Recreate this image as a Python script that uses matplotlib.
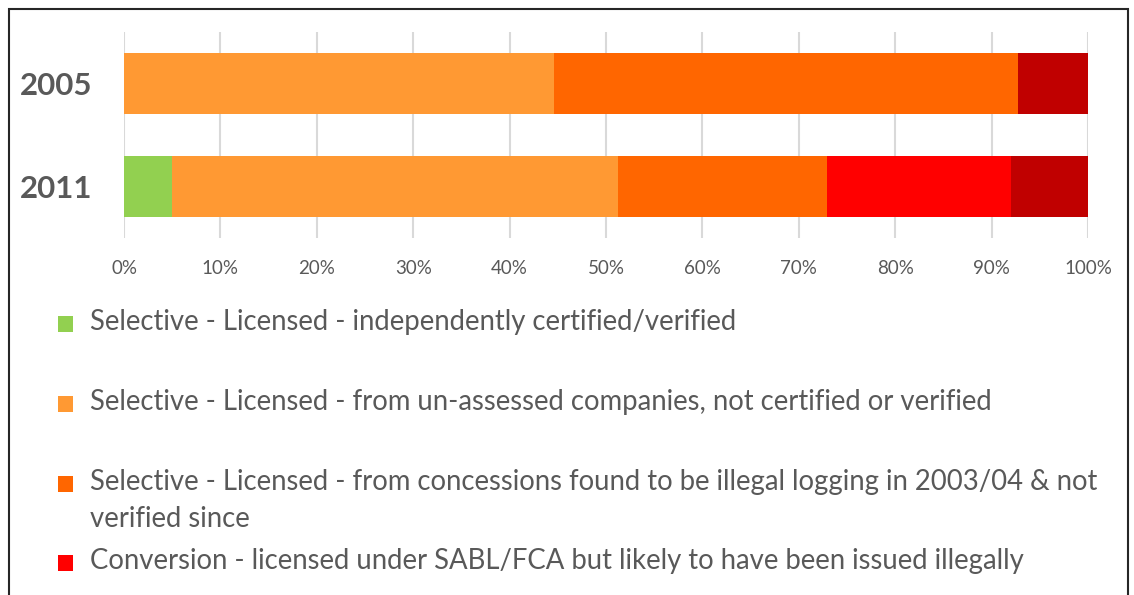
import matplotlib
matplotlib.use("Agg")
import matplotlib.pyplot as plt
from matplotlib.patches import Rectangle

years = ["2011", "2005"]
categories = [
    "Selective - Licensed - independently certified/verified",
    "Selective - Licensed - from un-assessed companies, not certified or verified",
    "Selective - Licensed - from concessions found to be illegal logging in 2003/04 & not\nverified since",
    "Conversion - licensed under SABL/FCA but likely to have been issued illegally",
    "Other - likely illegal",
]
colors = ["#92D050", "#FF9933", "#FF6600", "#FF0000", "#C00000"]
# values per category, ordered as years (2011, 2005)
values = [
    [5.0, 0.0],
    [46.2, 44.6],
    [21.7, 48.1],
    [19.1, 0.0],
    [8.0, 7.3],
]
xticks = [0, 10, 20, 30, 40, 50, 60, 70, 80, 90, 100]

FONT = "Lato"
TXT = "#595959"

fig = plt.figure(figsize=(11.34, 5.95), dpi=100)
ax = fig.add_axes([124/1134, 1-238/595, 964/1134, 206/595])

ypos = list(range(len(years)))
left = [0.0] * len(years)
for cat, col, vals in zip(categories, colors, values):
    ax.barh(ypos, vals, left=left, height=0.6, color=col, linewidth=0, zorder=3)
    left = [l + v for l, v in zip(left, vals)]

ax.set_xlim(0, 100)
ax.set_ylim(-0.5, 1.5)
ax.set_xticks(xticks)
ax.set_xticklabels([f"{t}%" for t in xticks], fontsize=13.5, color=TXT, family=FONT)
ax.set_yticks(ypos)
ax.set_yticklabels(years, fontsize=22.5, fontweight="bold", color=TXT, family=FONT)
ax.tick_params(axis="x", length=0, pad=16)
ax.tick_params(axis="y", length=0, pad=23)
ax.grid(axis="x", color="#D9D9D9", linewidth=1.5, zorder=0)
for s in ax.spines.values():
    s.set_visible(False)

# legend (first four entries visible; the rest is cut off in the original)
leg_y = [323, 403, 483, 562]
line_h = 37
for cat, col, y in zip(categories[:4], colors[:4], leg_y):
    fig.patches.append(Rectangle((58/1134, 1-(y+9)/595), 15/1134, 16/595,
                                 transform=fig.transFigure, facecolor=col,
                                 edgecolor="none"))
    for i, line in enumerate(cat.split("\n")):
        fig.text(90/1134, 1-(y - 1 + i*line_h)/595, line, fontsize=19.8,
                 color=TXT, family=FONT, va="center")

fig.patches.append(Rectangle((9/1134, -0.05), 1119/1134, 1.05 - 9/595,
                             transform=fig.transFigure, facecolor="none",
                             edgecolor="#262626", linewidth=1.5))

fig.savefig("out.png", dpi=100, facecolor="white")
